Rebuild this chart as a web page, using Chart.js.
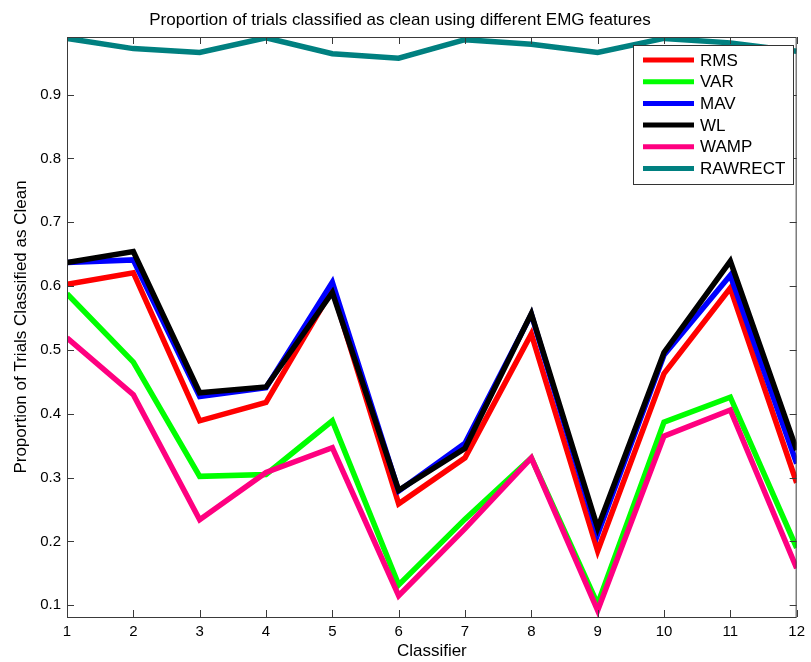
<!DOCTYPE html>
<html>
<head>
<meta charset="utf-8">
<script src="https://cdn.jsdelivr.net/npm/chart.js@4.4.0/dist/chart.umd.min.js"></script>
<style>
  html, body { margin: 0; padding: 0; background: #fff; }
</style>
</head>
<body>
<canvas id="myChart" width="811" height="662"></canvas>
<script>
const classifiers = ['1', '2', '3', '4', '5', '6', '7', '8', '9', '10', '11', '12'];
const yTicks = [0.1, 0.2, 0.3, 0.4, 0.5, 0.6, 0.7, 0.8, 0.9];

const rms     = [0.603, 0.621, 0.389, 0.418, 0.595, 0.259, 0.331, 0.525, 0.185, 0.463, 0.597, 0.292];
const varF    = [0.588, 0.481, 0.302, 0.305, 0.389, 0.132, 0.235, 0.331, 0.102, 0.387, 0.426, 0.190];
const mav     = [0.637, 0.641, 0.427, 0.441, 0.606, 0.279, 0.354, 0.556, 0.211, 0.492, 0.617, 0.322];
const wl      = [0.637, 0.654, 0.433, 0.442, 0.590, 0.280, 0.346, 0.557, 0.221, 0.496, 0.639, 0.343];
const wamp    = [0.519, 0.430, 0.234, 0.308, 0.347, 0.115, 0.220, 0.331, 0.092, 0.365, 0.406, 0.158];
const rawrect = [0.988, 0.972, 0.966, 0.989, 0.964, 0.957, 0.986, 0.979, 0.966, 0.988, 0.981, 0.968];

const FONT = '"Liberation Sans", Arial, sans-serif';
const AXIS_COLOR = '#3a3a3a';

function series(label, data, color, order) {
    return {
        label: label,
        data: data,
        borderColor: color,
        backgroundColor: color,
        borderWidth: 5.5,
        pointRadius: 0,
        fill: false,
        tension: 0,
        borderJoinStyle: 'miter',
        clip: 0,
        order: order
    };
}

// matlab style box, inward ticks and legend drawn on top
const matlabAxes = {
    id: 'matlabAxes',
    afterDraw(chart) {
        const ctx = chart.ctx;
        const a = chart.chartArea;
        const xs = chart.scales.x;
        const ys = chart.scales.y;
        ctx.save();
        ctx.strokeStyle = AXIS_COLOR;
        ctx.lineWidth = 1;
        ctx.strokeRect(a.left + 0.5, a.top + 0.5, a.right - a.left - 1, a.bottom - a.top);
        ctx.beginPath();
        xs.ticks.forEach((t, i) => {
            const px = Math.round(xs.getPixelForTick(i)) + 0.5;
            ctx.moveTo(px, a.bottom); ctx.lineTo(px, a.bottom - 7);
            ctx.moveTo(px, a.top); ctx.lineTo(px, a.top + 7);
        });
        ys.ticks.forEach(t => {
            const py = Math.round(ys.getPixelForValue(t.value)) + 0.5;
            ctx.moveTo(a.left, py); ctx.lineTo(a.left + 7, py);
            ctx.moveTo(a.right, py); ctx.lineTo(a.right - 7, py);
        });
        ctx.stroke();

        // legend
        const lx = 633, ly = 45, lw = 160, lh = 139;
        ctx.fillStyle = '#fff';
        ctx.fillRect(lx, ly, lw, lh);
        ctx.strokeStyle = '#333';
        ctx.strokeRect(lx + 0.5, ly + 0.5, lw, lh);
        ctx.font = '17px ' + FONT;
        ctx.textBaseline = 'middle';
        chart.data.datasets.forEach((ds, i) => {
            const cy = 60 + i * 21.7;
            ctx.strokeStyle = ds.borderColor;
            ctx.lineWidth = 5;
            ctx.beginPath();
            ctx.moveTo(643, cy); ctx.lineTo(694, cy);
            ctx.stroke();
            ctx.fillStyle = '#000';
            ctx.fillText(ds.label, 700, cy + 1);
        });
        ctx.restore();
    }
};

const ctx = document.getElementById('myChart');
new Chart(ctx, {
    type: 'line',
    data: {
        labels: classifiers,
        datasets: [
            series('RMS', rms, '#ff0000', 6),
            series('VAR', varF, '#00ff00', 5),
            series('MAV', mav, '#0000ff', 4),
            series('WL', wl, '#000000', 3),
            series('WAMP', wamp, '#ff0080', 2),
            series('RAWRECT', rawrect, '#008080', 1)
        ]
    },
    options: {
        responsive: false,
        animation: false,
        layout: { padding: { left: 0, right: 11, top: 0, bottom: 0 } },
        plugins: {
            legend: { display: false },
            tooltip: { enabled: false },
            title: {
                display: true,
                text: 'Proportion of trials classified as clean using different EMG features',
                color: '#000',
                font: { family: FONT, size: 17, weight: 'normal' },
                padding: { top: 10, bottom: 6.6 }
            }
        },
        scales: {
            x: {
                type: 'category',
                offset: false,
                grid: { display: false, drawTicks: false },
                border: { display: false },
                ticks: {
                    color: '#000',
                    font: { family: FONT, size: 15 },
                    padding: 6,
                    maxRotation: 0,
                    autoSkip: false
                },
                title: {
                    display: true,
                    text: 'Classifier',
                    color: '#000',
                    font: { family: FONT, size: 17 },
                    padding: { top: 0, bottom: 0 }
                },
                afterFit(scale) { scale.height = 45; }
            },
            y: {
                min: 0.0817,
                max: 0.9902,
                grid: { display: false, drawTicks: false },
                border: { display: false },
                afterBuildTicks(scale) { scale.ticks = yTicks.map(v => ({ value: v })); },
                ticks: {
                    color: '#000',
                    font: { family: FONT, size: 15 },
                    padding: 6,
                    callback: v => v.toFixed(1)
                },
                title: {
                    display: true,
                    text: 'Proportion of Trials Classified as Clean',
                    color: '#000',
                    font: { family: FONT, size: 17 },
                    padding: { top: 11, bottom: 0 }
                },
                afterFit(scale) { scale.width = 67; }
            }
        }
    },
    plugins: [matlabAxes]
});
</script>
</body>
</html>
